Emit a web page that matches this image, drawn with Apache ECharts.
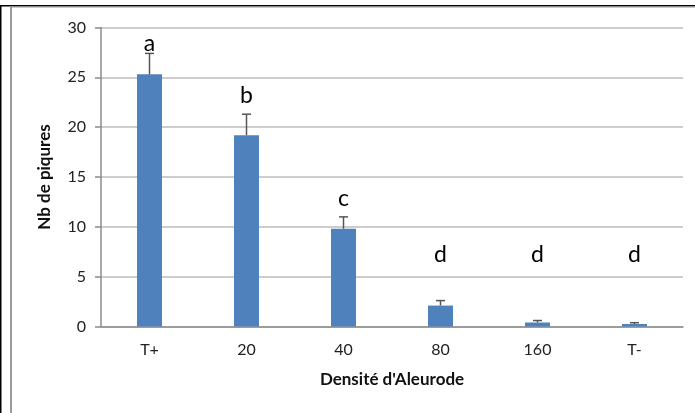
<!DOCTYPE html>
<html>
<head>
<meta charset="utf-8">
<script src="https://cdn.jsdelivr.net/npm/echarts@6/dist/echarts.min.js"></script>
<style>
  html, body { margin: 0; padding: 0; background: #fff; }
  #chart { width: 695px; height: 413px; }
</style>
</head>
<body>
<div id="chart"></div>
<script>
// Nombre de piqûres selon la densité d'aleurodes (moyenne + erreur type)
const categories = ['T+', '20', '40', '80', '160', 'T-'];
const means = [25.3, 19.2, 9.8, 2.1, 0.4, 0.25];
const errors = [2.1, 2.1, 1.2, 0.5, 0.2, 0.13];
// Groupes statistiques et hauteur (en unités de l'axe) où la lettre est écrite
const groupLetters = ['a', 'b', 'c', 'd', 'd', 'd'];
const letterLevels = [28.4, 23.2, 12.8, 7.2, 7.2, 7.2];
const yTicks = { min: 0, max: 30, step: 5 };

const FONT = 'Lato, "Liberation Sans", sans-serif';

const chart = echarts.init(document.getElementById('chart'), null, { renderer: 'canvas' });

const errorData = means.map((m, i) => [i, m, m + errors[i]]);
const letterData = groupLetters.map((l, i) => [i, letterLevels[i], l]);

chart.setOption({
  animation: false,
  backgroundColor: '#fff',
  grid: { left: 101, right: 12, top: 27.5, bottom: 86.5, containLabel: false },
  xAxis: {
    type: 'category',
    data: categories,
    name: "Densité d'Aleurode",
    nameLocation: 'middle',
    nameGap: 45,
    nameTextStyle: { fontFamily: FONT, fontSize: 17, fontWeight: 'bold', color: '#111' },
    axisLine: { lineStyle: { color: '#8c8c8c', width: 1.5 } },
    axisTick: { show: false },
    axisLabel: { fontFamily: FONT, fontSize: 16, color: '#222', margin: 15 }
  },
  yAxis: {
    type: 'value',
    min: yTicks.min,
    max: yTicks.max,
    interval: yTicks.step,
    name: 'Nb de piqures',
    nameLocation: 'middle',
    nameGap: 48,
    nameTextStyle: { fontFamily: FONT, fontSize: 17, fontWeight: 'bold', color: '#111' },
    axisLine: { show: true, lineStyle: { color: '#8c8c8c', width: 1.5 } },
    axisTick: { show: true, length: 6, lineStyle: { color: '#8c8c8c', width: 1.5 } },
    axisLabel: { fontFamily: FONT, fontSize: 16, color: '#222', margin: 15 },
    splitLine: { lineStyle: { color: '#bdbdbd', width: 1.5 } }
  },
  series: [
    {
      type: 'bar',
      data: means,
      barWidth: 25,
      itemStyle: { color: '#4f81bd' },
      z: 2
    },
    {
      type: 'custom',
      data: errorData,
      z: 3,
      renderItem: function (params, api) {
        const base = api.coord([api.value(0), api.value(1)]);
        const top = api.coord([api.value(0), api.value(2)]);
        const half = 4.5;
        const style = { stroke: '#555', lineWidth: 1.5 };
        return {
          type: 'group',
          children: [
            { type: 'line', shape: { x1: base[0], y1: base[1], x2: top[0], y2: top[1] }, style: style },
            { type: 'line', shape: { x1: top[0] - half, y1: top[1], x2: top[0] + half, y2: top[1] }, style: style }
          ]
        };
      }
    },
    {
      type: 'custom',
      data: letterData,
      z: 4,
      renderItem: function (params, api) {
        const p = api.coord([api.value(0), api.value(1)]);
        return {
          type: 'text',
          x: p[0],
          y: p[1],
          style: {
            text: groupLetters[params.dataIndex],
            fontFamily: FONT,
            fontSize: 23,
            fill: '#000',
            align: 'center',
            verticalAlign: 'middle'
          }
        };
      }
    }
  ],
  graphic: [
    { type: 'rect', shape: { x: 0, y: 5, width: 695, height: 1.5 }, style: { fill: '#000' } },
    { type: 'rect', shape: { x: 0, y: 5, width: 1.5, height: 408 }, style: { fill: '#000' } },
    { type: 'rect', shape: { x: 10, y: 6.5, width: 685, height: 1 }, style: { fill: '#9a9a9a' } },
    { type: 'rect', shape: { x: 10, y: 6.5, width: 2, height: 407 }, style: { fill: '#9a9a9a' } }
  ]
});
</script>
</body>
</html>
